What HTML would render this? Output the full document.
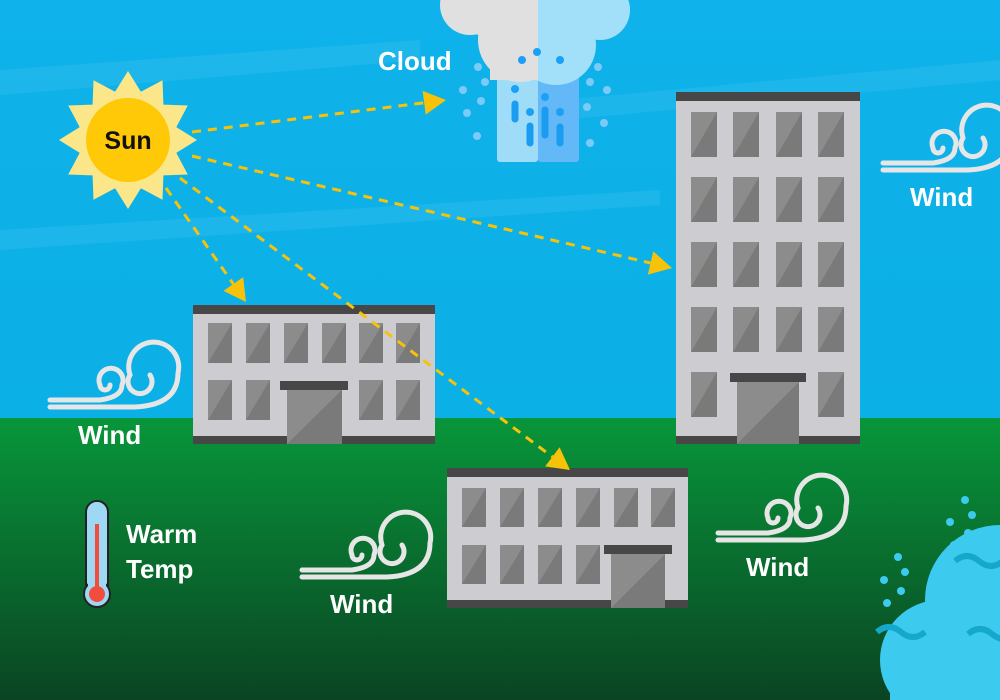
<!DOCTYPE html>
<html><head><meta charset="utf-8"><style>
html,body{margin:0;padding:0;width:1000px;height:700px;overflow:hidden}
svg{display:block}
text{font-family:"Liberation Sans",sans-serif;font-weight:bold;fill:#fff}
</style></head><body>
<svg id="s" width="1000" height="700" viewBox="0 0 1000 700" xmlns="http://www.w3.org/2000/svg">
<defs>
<linearGradient id="g" x1="0" y1="0" x2="0" y2="1">
<stop offset="0" stop-color="#08963a"/><stop offset="1" stop-color="#0a4423"/></linearGradient>
<linearGradient id="sky" x1="0" y1="0" x2="0" y2="1">
<stop offset="0" stop-color="#0fb2ea"/><stop offset="1" stop-color="#0bb0e6"/></linearGradient>
<g id="wind" fill="none" stroke="#e6e6e6" stroke-width="5" stroke-linecap="round">
<path d="M0,62 L85,62 Q128,60 128,28 A25,25 0 1 0 80,30 A12,12 0 1 0 100,30"/>
<path d="M0,55 L50,55 Q72,52 72,40 A12,12 0 1 0 50,40 A5,5 0 1 0 60,40"/>
</g>
</defs>
<rect width="1000" height="420" fill="url(#sky)"/>
<path d="M0,70 L420,40 L420,60 L0,95Z M560,100 L1000,60 L1000,80 L560,120Z M0,230 L660,190 L660,205 L0,250Z" fill="#2cbcee" opacity="0.5"/>
<rect y="418" width="1000" height="282" fill="url(#g)"/>
<g id="content"></g>
<!-- cloud -->
<rect x="497" y="55" width="41" height="107" rx="3" fill="#9fdcf8"/>
<rect x="538" y="55" width="41" height="107" rx="3" fill="#63b8f8"/>
<g fill="#e0e0e0"><circle cx="500" cy="-10" r="50"/><circle cx="520" cy="40" r="42"/><circle cx="470" cy="5" r="30"/></g>
<g fill="#a2e0fa"><circle cx="570" cy="-10" r="50"/><circle cx="556" cy="45" r="40"/><circle cx="600" cy="10" r="30"/></g>
<rect x="490" y="-10" width="48" height="90" fill="#e0e0e0"/>
<g fill="#1aa0f5"><circle cx="537" cy="52" r="4"/><circle cx="522" cy="60" r="4"/><circle cx="560" cy="60" r="4"/><circle cx="515" cy="89" r="4"/><circle cx="545" cy="97" r="4"/><circle cx="530" cy="112" r="4"/><circle cx="560" cy="112" r="4"/></g>
<g stroke="#1a9cf0" stroke-width="7" stroke-linecap="round"><line x1="515" y1="104" x2="515" y2="119"/><line x1="530" y1="126" x2="530" y2="143"/><line x1="545" y1="110" x2="545" y2="135"/><line x1="560" y1="127" x2="560" y2="143"/></g>
<g fill="#7ccaf8"><circle cx="478" cy="67" r="4"/><circle cx="485" cy="82" r="4"/><circle cx="463" cy="90" r="4"/><circle cx="481" cy="101" r="4"/><circle cx="467" cy="113" r="4"/><circle cx="477" cy="136" r="4"/><circle cx="598" cy="67" r="4"/><circle cx="590" cy="82" r="4"/><circle cx="607" cy="90" r="4"/><circle cx="587" cy="107" r="4"/><circle cx="604" cy="123" r="4"/><circle cx="590" cy="143" r="4"/></g>
<text x="378" y="70" font-size="26">Cloud</text>
<!-- sun -->
<polygon id="sunstar" fill="#fbe68a"/>
<circle cx="128" cy="140" r="42" fill="#ffc908"/>
<text x="128" y="149" font-size="25" text-anchor="middle" style="fill:#111">Sun</text>
<!-- winds -->
<use href="#wind" transform="translate(50,345)"/>
<use href="#wind" transform="translate(883,108)"/>
<use href="#wind" transform="translate(302,515)"/>
<use href="#wind" transform="translate(718,478)"/>
<text x="78" y="444" font-size="26">Wind</text>
<text x="910" y="206" font-size="26">Wind</text>
<text x="330" y="613" font-size="26">Wind</text>
<text x="746" y="576" font-size="26">Wind</text>
<!-- thermometer -->
<rect x="86" y="501" width="22" height="95" rx="11" fill="#9fd8f5" stroke="#222" stroke-width="2"/>
<circle cx="97" cy="594" r="13" fill="#9fd8f5" stroke="#222" stroke-width="2"/>
<rect x="88" y="502" width="18" height="100" rx="9" fill="#9fd8f5"/>
<rect x="95" y="524" width="4" height="70" fill="#f24d3c"/>
<circle cx="97" cy="594" r="8" fill="#f24d3c"/>
<text x="126" y="543" font-size="26">Warm</text>
<text x="126" y="578" font-size="26">Temp</text>
<!-- water blob -->
<g fill="#3ccbef"><circle cx="1000" cy="600" r="75"/><circle cx="940" cy="660" r="60"/><rect x="890" y="640" width="110" height="60"/></g>
<g fill="none" stroke="#14a8cc" stroke-width="6"><path d="M877,632 q12,-10 24,0 t24,0"/><path d="M968,634 q12,-10 24,0 t24,0"/><path d="M955,561 q12,-10 24,0 t24,0"/></g>
<g fill="#3ccbef"><circle cx="965" cy="500" r="4"/><circle cx="972" cy="515" r="4"/><circle cx="950" cy="522" r="4"/><circle cx="968" cy="533" r="4"/><circle cx="954" cy="545" r="4"/><circle cx="898" cy="557" r="4"/><circle cx="905" cy="572" r="4"/><circle cx="884" cy="580" r="4"/><circle cx="901" cy="591" r="4"/><circle cx="887" cy="603" r="4"/></g>
<g id="arrows"></g>
</svg>
<script>
var NS="http://www.w3.org/2000/svg";
function el(p,t,a){var e=document.createElementNS(NS,t);for(var k in a)e.setAttribute(k,a[k]);p.appendChild(e);return e;}
// sun star
var pts=[];for(var i=0;i<24;i++){var r=i%2?50:69,an=Math.PI*2*i/24-Math.PI/2;pts.push((128+r*Math.cos(an)).toFixed(1)+","+(140+r*Math.sin(an)).toFixed(1));}
document.getElementById("sunstar").setAttribute("points",pts.join(" "));
var c=document.getElementById("content");
function bld(x,w,roof,bot,cols,ww,rows,wh,door){
 el(c,"rect",{x:x,y:roof,width:w,height:bot-roof,fill:"#cdcdd1"});
 el(c,"rect",{x:x,y:roof,width:w,height:9,fill:"#474747"});
 el(c,"rect",{x:x,y:bot-8,width:w,height:8,fill:"#474747"});
 rows.forEach(function(ry){cols.forEach(function(cx){
  if(door.skip&&door.skip(cx,ry))return;
  el(c,"rect",{x:cx,y:ry,width:ww,height:wh,fill:"#7a7a7a"});
  el(c,"polygon",{points:cx+","+ry+" "+(cx+ww)+","+ry+" "+cx+","+(ry+wh),fill:"#8c8c8c"});
 });});
 el(c,"rect",{x:door.x,y:door.y+9,width:door.w,height:bot-door.y-9,fill:"#7a7a7a"});
 el(c,"polygon",{points:door.x+","+(door.y+9)+" "+(door.x+door.w)+","+(door.y+9)+" "+door.x+","+bot,fill:"#8c8c8c"});
 el(c,"rect",{x:door.lx,y:door.y,width:door.lw,height:9,fill:"#474747"});
}
bld(193,242,305,444,[208,246,284,322,359,396],24,[323,380],40,{x:287,w:55,y:381,lx:280,lw:68,skip:function(cx,ry){return ry==380&&(cx==284||cx==322);}});
bld(676,184,92,444,[691,733,776,818],26,[112,177,242,307,372],45,{x:737,w:62,y:373,lx:730,lw:76,skip:function(cx,ry){return ry==372&&(cx==733||cx==776);}});
bld(447,241,468,608,[462,500,538,576,614,651],24,[488,545],39,{x:611,w:54,y:545,lx:604,lw:68,skip:function(cx,ry){return ry==545&&(cx==614||cx==651);}});
var a=document.getElementById("arrows");
function arr(x1,y1,x2,y2){
 var dx=x2-x1,dy=y2-y1,L=Math.hypot(dx,dy),ux=dx/L,uy=dy/L,bx=x2-ux*22,by=y2-uy*22;
 el(a,"line",{x1:x1,y1:y1,x2:bx,y2:by,stroke:"#f7c20a","stroke-width":3,"stroke-dasharray":"9,7"});
 el(a,"polygon",{points:x2+","+y2+" "+(bx-uy*12)+","+(by+ux*12)+" "+(bx+uy*12)+","+(by-ux*12),fill:"#f7c20a"});
}
arr(192,132,446,100);arr(192,156,672,268);arr(166,188,246,302);arr(180,178,570,470);
</script>
</body></html>
